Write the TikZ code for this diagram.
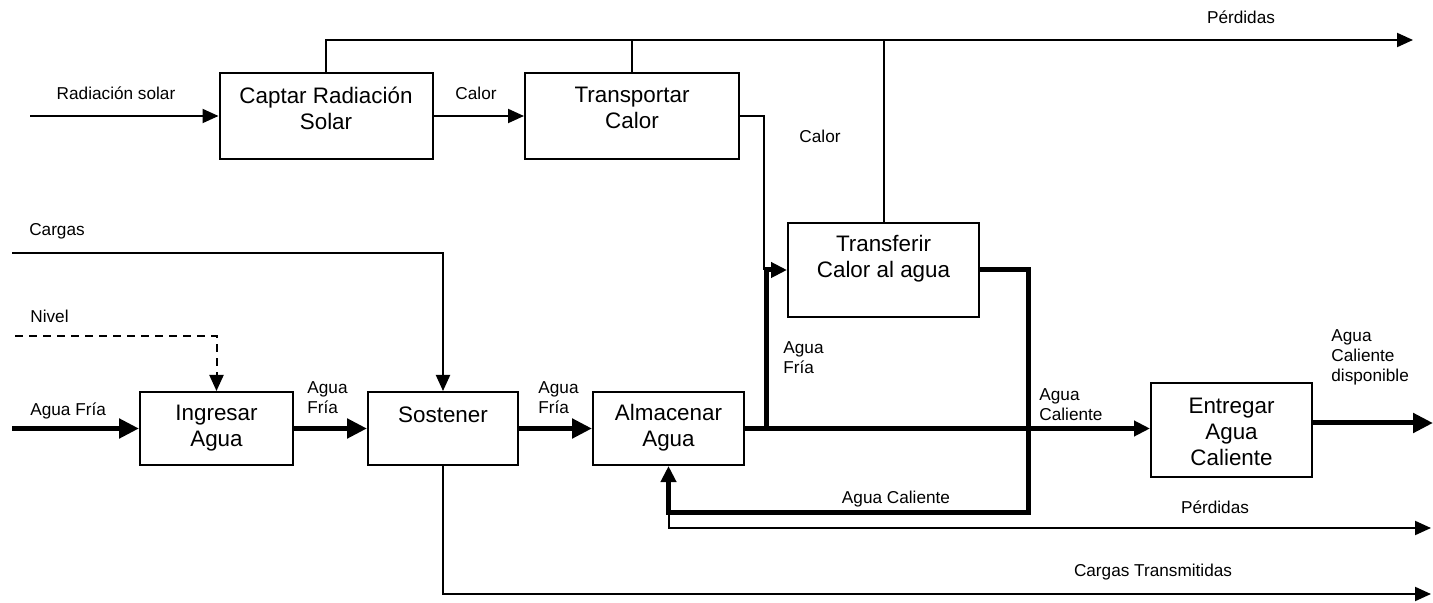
\documentclass[tikz,border=0pt]{standalone}
\usepackage{fontspec}
\setmainfont{Liberation Sans}
\usetikzlibrary{arrows.meta}

\begin{document}
\begin{tikzpicture}[x=0.5pt,y=-0.5pt,
  box/.style={draw,line width=1pt,rectangle,inner sep=0pt},
  boxtxt/.style={align=center,inner sep=0pt,font=\fontsize{11.2}{13}\selectfont},
  lbl/.style={inner sep=0pt,align=left,font=\fontsize{8.6}{10}\selectfont},
  thin/.style={line width=1pt},
  flow/.style={line width=1pt,-{Triangle[length=8pt,width=7pt]}},
  water/.style={line width=2.5pt,-{Triangle[length=10pt,width=9.5pt]}},
  watersm/.style={line width=2.5pt,-{Triangle[length=8pt,width=7.5pt]}}]
\useasboundingbox (0,0) rectangle (1433,603);
\foreach \n/\x/\y/\w/\h in %
{captar/326/116/106.5/43,transp/632/116/107/43,transf/883.5/270/95.5/47,
 ingr/216.5/428.5/76.5/36.5,sost/443/428.5/75/36.5,alm/668.5/428.5/75.5/36.5,
 entr/1231.5/430/80.5/47} {
   \node[box,minimum width=\w pt,minimum height=\h pt] (\n) at (\x,\y) {};
}
\foreach \n/\x/\y/\t in %
{captar/326/108/{Captar Radiación\\Solar},transp/632/108/{Transportar\\Calor},
 transf/883.5/259/{Transferir\\Calor al agua},ingr/216.5/428/{Ingresar\\Agua},
 sost/443/415/{Sostener},alm/668.5/428/{Almacenar\\Agua},
 entr/1231.5/432/{Entregar\\Agua\\Caliente}} {
   \node[boxtxt] (\n-txt) at (\x,\y) {\t};
}
\coordinate (rad) at (30,116);
\coordinate (loss1) at (1413,40);
\coordinate (loss2) at (1431,528);
\coordinate (cargT) at (1431,594);
\coordinate (carg) at (12,253);
\coordinate (niv) at (15,336);
\coordinate (af) at (12,428.5);
\coordinate (acd) at (1433,423);
\coordinate (fork) at (766,428.5);
\coordinate (ret) at (1028,512);
\draw[flow] (rad) -- (captar);
\draw[flow] (captar) -- (transp);
\draw[flow] (captar.north) |- (loss1);
\draw[thin] (transp.north) -- (transp.north |- loss1);
\draw[thin] (transf.north) -- (transf.north |- loss1);
\draw[thin] (transp.east) -| ([xshift=-1pt]fork |- transf.west);
\draw[watersm] (fork) |- (transf.west);
\draw[flow] (carg) -| (sost.north);
\draw[flow,dash pattern=on 4pt off 3pt] (niv) -| (ingr.north);
\draw[water] (af) -- (ingr);
\draw[water] (ingr) -- (sost);
\draw[water] (sost) -- (alm);
\draw[watersm] (alm) -- (alm -| entr.west);
\draw[water] (entr.east |- acd) -- (acd);
\draw[watersm] (transf.east) -| (ret) -| (alm.south);
\draw[flow] (alm.south |- ret) |- (loss2);
\draw[flow] (sost.south) |- (cargT);
\foreach \n/\x/\y/\t in %
{l-rad/116/93/{Radiación solar},l-calor1/476/93/{Calor},l-calor2/820/136/{Calor},
 l-perd1/1241/17/{Pérdidas},l-carg/57/231/{Cargas},l-ac2/896/499/{Agua Caliente},
 l-perd2/1215/507/{Pérdidas},l-cargT/1153/572/{Cargas Transmitidas}} {
   \node[lbl] (\n) at (\x,\y) {\t};
}
\foreach \n/\x/\y/\t in %
{l-niv/30/316/{Nivel},l-af0/30/411/{Agua Fría},l-af1/307/398/{Agua\\Fría},
 l-af2/538/398/{Agua\\Fría},l-af3/783/358/{Agua\\Fría},
 l-ac1/1039/405/{Agua\\Caliente},l-acd/1331/357/{Agua\\Caliente\\disponible}} {
   \node[lbl,anchor=west] (\n) at (\x,\y) {\t};
}
\end{tikzpicture}
\end{document}
